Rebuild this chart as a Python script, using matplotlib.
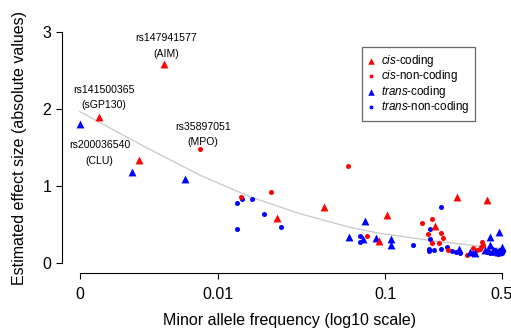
import matplotlib
matplotlib.use("Agg")
import matplotlib.pyplot as plt
import numpy as np

plt.rcParams['font.family'] = ['Liberation Sans', 'DejaVu Sans']
plt.rcParams['mathtext.fontset'] = 'custom'
plt.rcParams['mathtext.rm'] = 'Liberation Sans'
plt.rcParams['mathtext.it'] = 'Liberation Sans:italic'

# minor allele frequency 0 is drawn at this spot on the log axis
ZERO_POS = 0.0015

cis_coding_x = [0.00195, 0.00338, 0.00475, 0.02265, 0.0431, 0.1033, 0.092, 0.200, 0.2704, 0.4087]
cis_coding_y = [1.90, 1.337, 2.58, 0.588, 0.723, 0.619, 0.286, 0.48, 0.861, 0.818]

cis_noncoding_x = [0.00783, 0.0604, 0.0208, 0.01384, 0.0779, 0.1656, 0.180, 0.191, 0.2153, 0.2213,
                   0.19, 0.21, 0.239, 0.308, 0.337, 0.354, 0.368, 0.38, 0.383, 0.376]
cis_noncoding_y = [1.485, 1.26, 0.922, 0.861, 0.355, 0.524, 0.372, 0.571, 0.394, 0.329,
                   0.256, 0.264, 0.169, 0.104, 0.191, 0.169, 0.182, 0.277, 0.234, 0.21]

trans_coding_x = [0, 0.00309, 0.0064, 0.0606, 0.0759, 0.074, 0.0883, 0.109, 0.109, 0.278,
                  0.323, 0.344, 0.425, 0.482, 0.425, 0.499, 0.396, 0.444, 0.476]
trans_coding_y = [1.805, 1.178, 1.095, 0.335, 0.545, 0.307, 0.32, 0.316, 0.234, 0.178,
                  0.147, 0.13, 0.342, 0.398, 0.234, 0.212, 0.169, 0.169, 0.147]

trans_noncoding_x = [0.01396, 0.0130, 0.01596, 0.0190, 0.0239, 0.0130, 0.0710, 0.0713, 0.1476, 0.2153,
                     0.186, 0.186, 0.184, 0.184, 0.197, 0.2153, 0.234, 0.252, 0.267, 0.28,
                     0.334, 0.406, 0.425, 0.444, 0.461, 0.476, 0.499, 0.507, 0.415, 0.455, 0.49]
trans_noncoding_y = [0.827, 0.775, 0.835, 0.636, 0.472, 0.437, 0.355, 0.277, 0.234, 0.731,
                     0.437, 0.307, 0.186, 0.16, 0.169, 0.186, 0.204, 0.16, 0.147, 0.134,
                     0.134, 0.14, 0.13, 0.13, 0.14, 0.12, 0.13, 0.15, 0.16, 0.17, 0.17]

# smooth trend line
curve_x = [0.0015, 0.00359, 0.00784, 0.0156, 0.031, 0.0618, 0.0934, 0.1774, 0.3, 0.486]
curve_y = [1.965, 1.52, 1.14, 0.861, 0.64, 0.463, 0.385, 0.299, 0.24, 0.191]

snp_labels = ["rs147941577\n(AIM)", "rs141500365\n(sGP130)", "rs200036540\n(CLU)", "rs35897051\n(MPO)"]
snp_label_x = [0.00491, 0.00209, 0.00197, 0.00817]
snp_label_y = [2.818, 2.149, 1.429, 1.669]


def fix0(x):
    x = np.asarray(x, dtype=float)
    return np.where(x == 0, ZERO_POS, x)


fig = plt.figure(figsize=(5.11, 3.29), dpi=100)
ax = fig.add_axes([62 / 511, 56 / 329, 449 / 511, 263 / 329])

ax.plot(curve_x, curve_y, color='#c8c8c8', lw=0.9, zorder=1)

red = '#ff0000'
blue = '#0000ff'
ax.scatter(fix0(trans_noncoding_x), trans_noncoding_y, marker='o', s=13, color=blue, lw=0, zorder=3)
ax.scatter(fix0(cis_noncoding_x), cis_noncoding_y, marker='o', s=13, color=red, lw=0, zorder=3)
ax.scatter(fix0(trans_coding_x), trans_coding_y, marker='^', s=32, color=blue, lw=0, zorder=3)
ax.scatter(fix0(cis_coding_x), cis_coding_y, marker='^', s=32, color=red, lw=0, zorder=3)

for txt, tx, ty in zip(snp_labels, snp_label_x, snp_label_y):
    ax.text(tx, ty, txt, ha='center', va='center', fontsize=7.6, linespacing=1.65)

ax.set_xscale('log')
ax.set_xlim(0.001173, 0.5664)
ax.set_ylim(-0.13, 3.286)
ax.set_xticks([ZERO_POS, 0.01, 0.1, 0.5])
ax.set_xticklabels(['0', '0.01', '0.1', '0.5'])
ax.xaxis.set_minor_locator(matplotlib.ticker.NullLocator())
ax.set_yticks([0, 1, 2, 3])

for s in ['top', 'right']:
    ax.spines[s].set_visible(False)
ax.spines['bottom'].set_bounds(ZERO_POS, 0.5)
ax.spines['left'].set_bounds(0, 3)
for s in ['bottom', 'left']:
    ax.spines[s].set_linewidth(0.8)
ax.tick_params(axis='both', length=4.3, width=0.8, labelsize=11.5)
ax.tick_params(axis='x', pad=6)
ax.tick_params(axis='y', pad=3.5)

fig.text(290 / 511, 1 - 320 / 329, 'Minor allele frequency (log10 scale)',
         ha='center', va='center', fontsize=11.5)
fig.text(20 / 511, 1 - 148 / 329, 'Estimated effect size (absolute values)',
         ha='center', va='center', rotation=90, fontsize=11.5)

h1 = ax.scatter([], [], marker='^', s=22, color=red, lw=0)
h2 = ax.scatter([], [], marker='o', s=8, color=red, lw=0)
h3 = ax.scatter([], [], marker='^', s=22, color=blue, lw=0)
h4 = ax.scatter([], [], marker='o', s=8, color=blue, lw=0)
leg = ax.legend([h1, h2, h3, h4],
                [r'$\mathit{cis}$-coding', r'$\mathit{cis}$-non-coding',
                 r'$\mathit{trans}$-coding', r'$\mathit{trans}$-non-coding'],
                loc='upper left', bbox_to_anchor=(362 / 511, 1 - 47 / 329),
                bbox_transform=fig.transFigure, fontsize=8.4, frameon=True,
                fancybox=False, edgecolor='#444444', handlelength=0.6,
                handletextpad=0.5, labelspacing=-0.05, borderpad=0.5,
                borderaxespad=0, scatterpoints=1)
leg.get_frame().set_linewidth(0.9)

fig.savefig('out.png', dpi=100)
